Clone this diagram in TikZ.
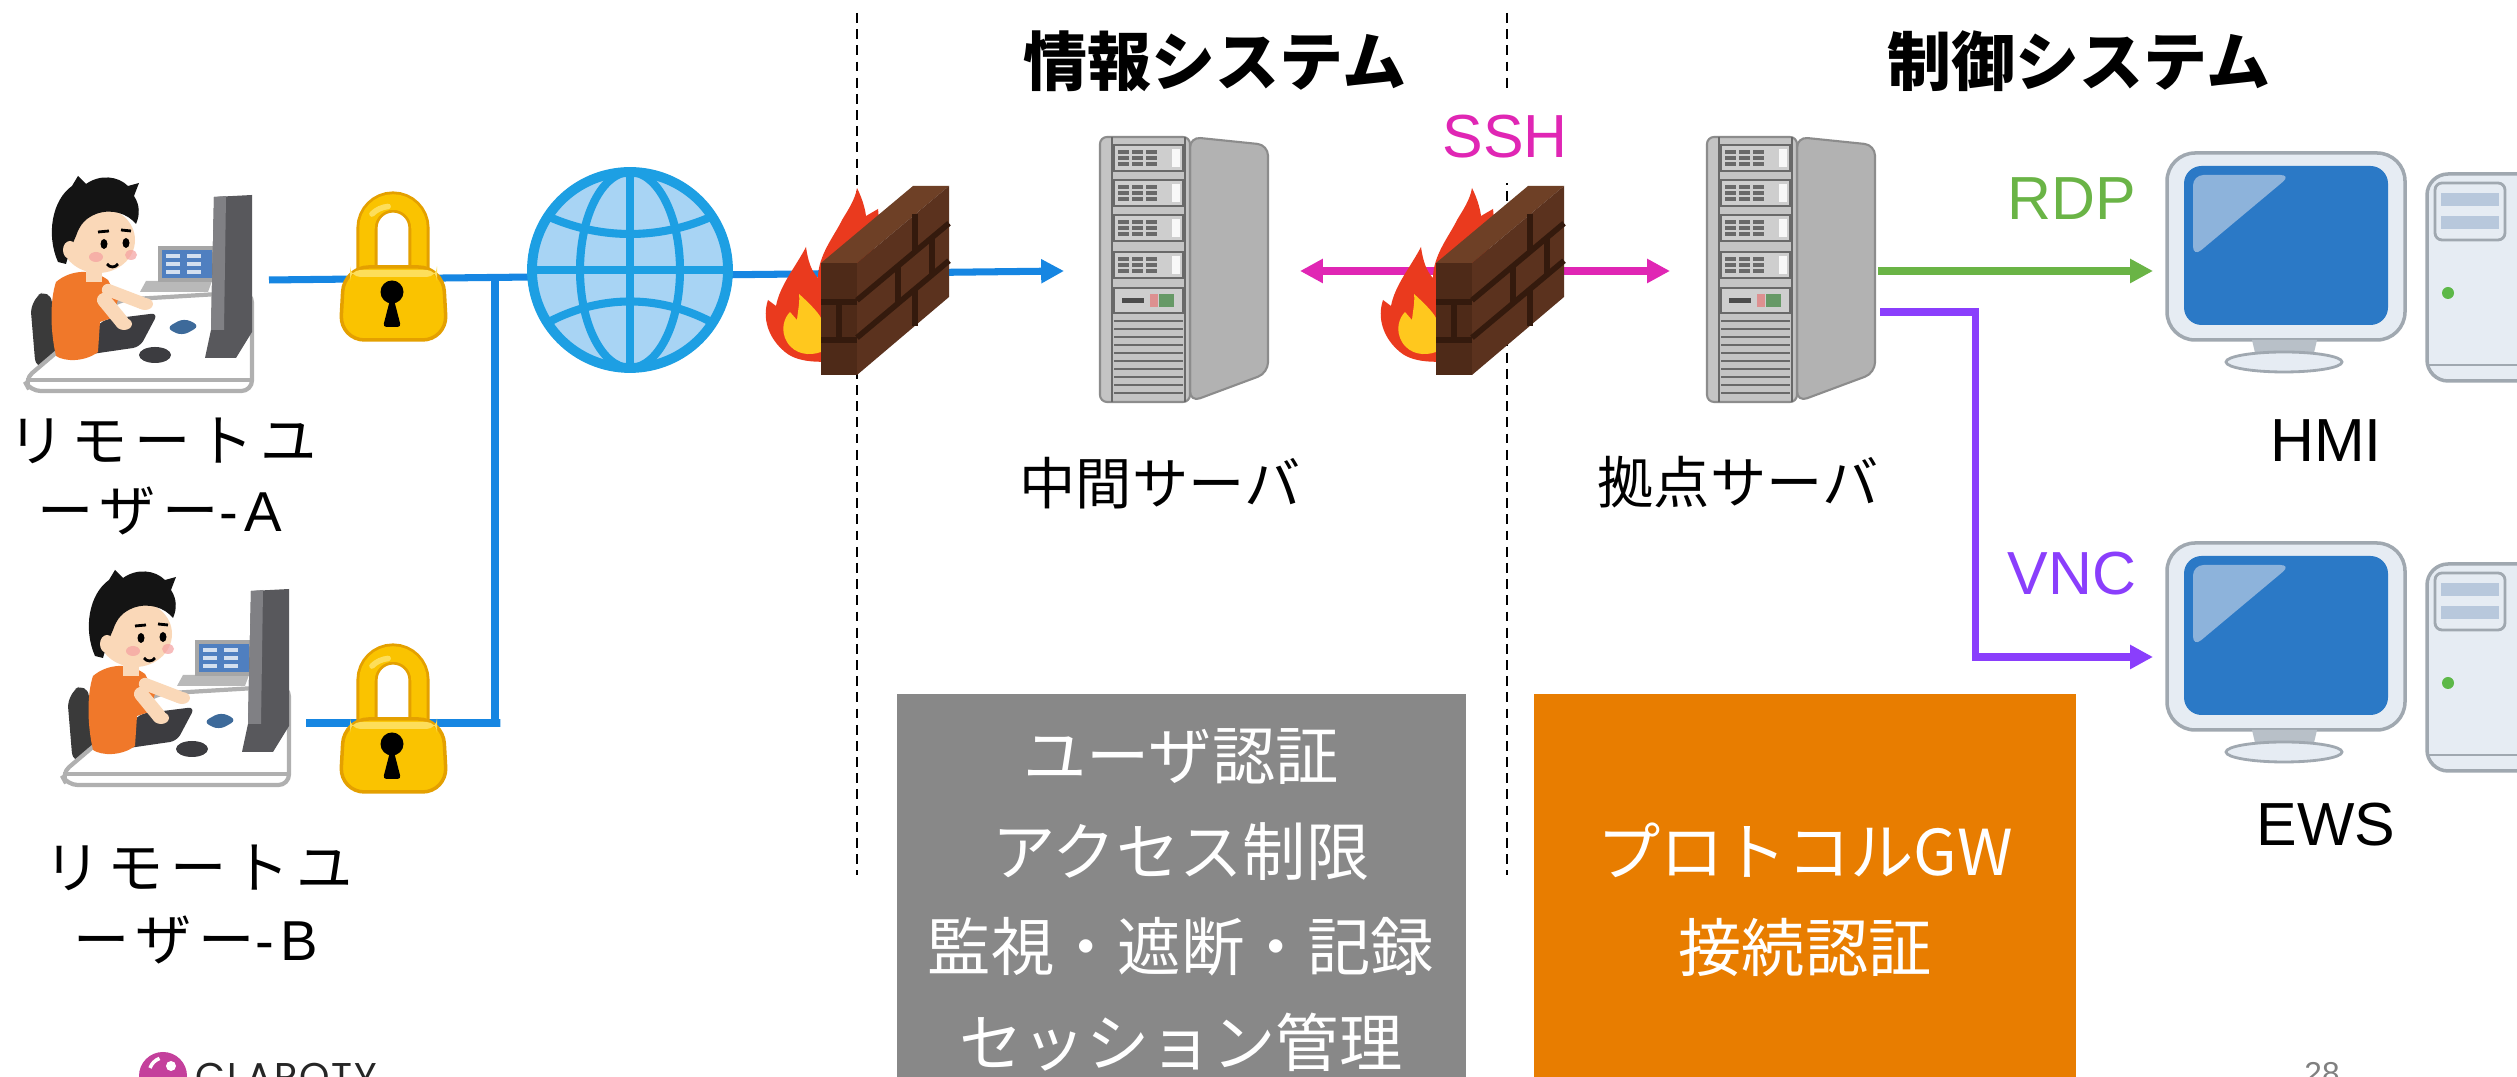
\documentclass[tikz,border=0pt]{standalone}
\usepackage{fontspec}
\setmainfont{Liberation Sans}
\newfontfamily\jp{Noto Sans CJK JP}
\newfontfamily\jpspaced{Noto Sans CJK JP}[LetterSpace=12]
\newfontfamily\latspaced{Liberation Sans}[LetterSpace=12]
\newfontfamily\logofont{Poppins}[LetterSpace=5]
\usetikzlibrary{arrows.meta}

% palette
\definecolor{netblue}{RGB}{22,134,226}
\definecolor{sshpink}{RGB}{224,38,180}
\definecolor{rdpgreen}{RGB}{106,180,70}
\definecolor{vncpurple}{RGB}{138,62,252}
\definecolor{boxgray}{RGB}{136,136,136}
\definecolor{boxorange}{RGB}{232,125,0}
\definecolor{lockyellow}{RGB}{250,195,0}
\definecolor{lockedge}{RGB}{228,160,0}
\definecolor{lockhigh}{RGB}{253,222,90}
\definecolor{globefill}{RGB}{168,212,244}
\definecolor{globeline}{RGB}{29,159,227}
\definecolor{brick}{RGB}{91,50,30}
\definecolor{bricktop}{RGB}{110,64,38}
\definecolor{brickfront}{RGB}{78,42,24}
\definecolor{mortar}{RGB}{52,26,13}
\definecolor{flamered}{RGB}{234,58,30}
\definecolor{flameyellow}{RGB}{255,200,30}
\definecolor{srvfront}{RGB}{196,196,196}
\definecolor{srvside}{RGB}{178,178,178}
\definecolor{srvedge}{RGB}{140,140,140}
\definecolor{srvline}{RGB}{105,105,105}
\definecolor{srvbay}{RGB}{206,206,206}
\definecolor{pcframe}{RGB}{230,236,243}
\definecolor{pcedge}{RGB}{160,168,176}
\definecolor{pcscreen}{RGB}{43,121,198}
\definecolor{pcreflect}{RGB}{141,179,219}
\definecolor{pcneck}{RGB}{184,192,200}
\definecolor{pcslot}{RGB}{184,200,220}
\definecolor{ledgreen}{RGB}{93,184,72}
\definecolor{skin}{RGB}{250,216,184}
\definecolor{blush}{RGB}{245,160,160}
\definecolor{shirt}{RGB}{240,120,42}
\definecolor{chairdark}{RGB}{58,58,58}
\definecolor{deskgray}{RGB}{176,176,176}
\definecolor{monidark}{RGB}{88,88,92}
\definecolor{monilight}{RGB}{128,128,132}
\definecolor{laptopblue}{RGB}{79,127,192}
\definecolor{tabletblue}{RGB}{61,106,154}
\definecolor{keydark}{RGB}{60,60,64}
\definecolor{claropink}{RGB}{196,64,156}

\tikzset{
  % a person working at a desk, drawn from its top-left corner
  deskuser/.pic={
    \begin{scope}[shift={(-23,-177)}]
      \fill[chairdark, rounded corners=4] (30,300) -- (50,288) -- (60,362) -- (36,372) -- cycle;
      \filldraw[fill=white, draw=deskgray, line width=1.2pt, rounded corners=3]
        (24,380) -- (118,300) -- (252,292) -- (252,391) -- (30,391) -- cycle;
      \draw[deskgray, line width=1pt] (26,380) -- (252,380);
      \fill[gray!55] (146,281) -- (212,281) -- (208,292) -- (140,292) -- cycle;
      \filldraw[fill=laptopblue, draw=gray!70, line width=1pt] (160,248) rectangle (214,280);
      \foreach \yy in {256,264,272}
        \draw[white!75!laptopblue, line width=1.2pt, dash pattern=on 4pt off 2pt] (166,\yy) -- (208,\yy);
      \fill[monidark] (214,197) -- (252,195) -- (252,332) -- (236,358) -- (205,358) -- (211,330) -- cycle;
      \fill[monilight] (214,197) -- (226,196) -- (224,330) -- (211,330) -- cycle;
      \fill[tabletblue, rounded corners=2] (166,328) -- (184,318) -- (200,326) -- (182,336) -- cycle;
      \fill[keydark, rounded corners=2] (78,356) -- (102,320) -- (158,313) -- (140,347) -- cycle;
      \fill[keydark] (155,355) ellipse (16 and 8);
      \fill[shirt] (56,282) .. controls (70,270) and (92,268) .. (108,280) -- (118,300) -- (112,318)
        -- (100,322) -- (98,352) .. controls (85,362) and (65,362) .. (56,356)
        .. controls (50,330) and (50,300) .. cycle;
      \draw[skin, line width=4pt, line cap=round] (104,300) -- (122,322);
      \draw[skin, line width=3.5pt, line cap=round] (108,290) -- (142,303);
      \fill[skin] (124,324) ellipse (8 and 6);
      \fill[skin] (145,304) ellipse (8 and 6);
      \fill[skin] (86,266) rectangle (102,282);
      \fill[skin] (98,240) ellipse (37 and 33);
      \fill[black!92] (58,262) .. controls (46,235) and (52,200) .. (72,186) -- (78,176) -- (86,184)
        .. controls (100,174) and (118,176) .. (128,186) -- (139,183) -- (134,196)
        .. controls (140,205) and (140,215) .. (136,224)
        .. controls (128,214) and (112,208) .. (96,214)
        .. controls (86,218) and (80,224) .. (76,236) -- (70,250) -- (66,264) -- cycle;
      \fill[skin] (70,250) ellipse (7 and 9);
      \fill[blush, opacity=0.7] (96,257) ellipse (7 and 5);
      \fill[blush, opacity=0.7] (131,255) ellipse (6 and 5);
      \fill[black] (104,244) ellipse (3.5 and 5);
      \fill[black] (126,243) ellipse (3.5 and 5);
      \draw[black, line width=0.8pt] (98,232) -- (109,231) (121,230) -- (131,231);
      \draw[black, line width=0.8pt] (107,264) .. controls (110,268) and (115,268) .. (118,264);
    \end{scope}
  },
  % padlock, drawn from its top-left corner
  padlock/.pic={
    \draw[lockedge, line width=6pt] (27,72) -- (27,28) arc[start angle=180, end angle=360, radius=26] -- (79,72);
    \draw[lockyellow, line width=4.4pt] (27,72) -- (27,28) arc[start angle=180, end angle=360, radius=26] -- (79,72);
    \draw[lockhigh, line width=1.6pt, line cap=round] (32,14) arc[start angle=225, end angle=265, radius=26];
    \filldraw[fill=lockyellow, draw=lockedge, line width=1pt, rounded corners=7]
      (4,67) -- (103,67) -- (107,140) -- (0,140) -- cycle;
    \fill[lockhigh, rounded corners=3] (10,70) rectangle (97,77);
    \fill[black] (52,92) circle (11.5);
    \fill[black, rounded corners=1] (52,92) -- (43,127) -- (61,127) -- cycle;
  },
  % globe icon, drawn around its centre
  globeicon/.pic={
    \fill[globefill] (0,0) circle (98);
    \begin{scope}
      \clip (0,0) circle (98);
      \draw[globeline, line width=2.3pt] (-100,0) -- (100,0) (0,-100) -- (0,100);
      \draw[globeline, line width=2.3pt] (0,0) ellipse (50 and 98);
      \draw[globeline, line width=2.3pt] (-95,-60) .. controls (-35,-28) and (35,-28) .. (95,-60);
      \draw[globeline, line width=2.3pt] (-95,60) .. controls (-35,22) and (35,22) .. (95,60);
    \end{scope}
    \draw[globeline, line width=2.8pt] (0,0) circle (98);
  },
  % burning brick wall, drawn from its top-left corner
  firewall/.pic={
    \begin{scope}[shift={(-821,-186)}]
      \fill[flamered] (845,360) .. controls (830,362) and (800,365) .. (785,352)
        .. controls (768,338) and (762,318) .. (768,300) -- (776,306)
        .. controls (780,285) and (795,268) .. (806,247)
        .. controls (808,262) and (812,272) .. (818,278)
        .. controls (818,255) and (835,235) .. (842,220)
        .. controls (848,210) and (855,200) .. (857,188)
        .. controls (862,198) and (865,208) .. (866,216) -- (878,209)
        .. controls (880,225) and (878,240) .. (872,255) -- (860,300) -- cycle;
      \fill[flameyellow] (821,352) .. controls (810,356) and (795,355) .. (787,342)
        .. controls (780,330) and (784,318) .. (790,312) -- (797,320)
        .. controls (798,310) and (800,302) .. (799,294)
        .. controls (808,302) and (818,312) .. (821,318) -- cycle;
      \fill[brickfront] (821,263) -- (857,263) -- (857,375) -- (821,375) -- cycle;
      \fill[bricktop] (821,263) -- (913,186) -- (949,186) -- (857,263) -- cycle;
      \fill[brick] (857,263) -- (949,186) -- (949,297) -- (857,375) -- cycle;
      \draw[mortar, line width=1.6pt] (857,300.3) -- (949,223.3) (857,337.7) -- (949,260.7);
      \draw[mortar, line width=1.6pt] (821,302) -- (857,302) (821,340) -- (857,340);
      \draw[mortar, line width=1.6pt] (915,214.5) -- (915,251.8) (898,266) -- (898,303.3)
        (932,237.5) -- (932,274.8) (915,289.2) -- (915,326.5);
      \draw[mortar, line width=1.6pt] (839,302) -- (839,340);
    \end{scope}
  },
  % tower server, drawn from its top-left corner
  servertower/.pic={
    \filldraw[fill=srvside, draw=srvedge, line width=0.6pt, rounded corners=3]
      (90,0) -- (168,8) -- (168,236) -- (90,265) -- cycle;
    \filldraw[fill=srvfront, draw=srvedge, line width=0.6pt, rounded corners=2] (0,0) rectangle (90,265);
    \draw[srvline, line width=0.8pt] (12,0) -- (12,265) (85,0) -- (85,265);
    \foreach \t in {8,43,78,115} {
      \filldraw[fill=srvbay, draw=srvline, line width=0.7pt] (14,\t) rectangle (83,\t+26);
      \foreach \g in {18,32,46}
        \foreach \r in {7,13,19}
          \draw[srvline, line width=1pt] (\g,\t+\r) -- (\g+11,\t+\r);
      \fill[white!85!srvbay] (72,\t+4) rectangle (80,\t+22);
    }
    \filldraw[fill=srvbay, draw=srvline, line width=0.7pt] (14,151) rectangle (83,176);
    \fill[black!70] (22,161) rectangle (44,166);
    \fill[red!30!srvbay] (50,157) rectangle (58,170);
    \fill[green!20!gray] (59,157) rectangle (74,170);
    \foreach \v in {184,192,...,262}
      \draw[srvline, line width=0.8pt] (14,\v) -- (83,\v);
  },
  % monitor with a desktop tower, drawn from the monitor's top-left corner
  desktoppc/.pic={
    \filldraw[fill=pcframe, draw=pcedge, line width=1pt, rounded corners=8] (0,0) rectangle (238,187);
    \fill[pcscreen, rounded corners=5] (17,13) rectangle (221,172);
    \fill[pcreflect, rounded corners=3] (26,22) -- (124,22) -- (26,104) -- cycle;
    \fill[pcneck] (85,187) -- (150,187) -- (146,204) -- (89,204) -- cycle;
    \filldraw[fill=pcframe, draw=pcedge, line width=0.8pt] (117,209) ellipse (58 and 10);
    \filldraw[fill=pcframe, draw=pcedge, line width=1pt, rounded corners=6] (260,21) rectangle (380,228);
    \draw[pcedge, line width=0.8pt, rounded corners=2] (268,30) rectangle (338,87);
    \fill[pcslot] (274,40) rectangle (332,53);
    \fill[pcslot] (274,63) rectangle (332,76);
    \fill[ledgreen] (281,140) circle (6);
    \draw[pcedge, line width=0.8pt] (260,212) -- (380,212);
  },
  netline/.style={netblue, line width=2pt},
  arrowtip/.style={-{Triangle[length=6.5pt,width=6.5pt]}},
  divider/.style={black, line width=0.7pt, dash pattern=on 2.8pt off 1.8pt},
  heading/.style={font=\jp\bfseries\fontsize{18.2}{22}\selectfont, inner sep=0},
  devlabel/.style={font=\jp\fontsize{16}{19}\selectfont, inner sep=0},
  userlabel/.style={font=\fontsize{16}{19}\selectfont, inner sep=0},
  proto/.style={font=\fontsize{17.3}{20}\selectfont, inner sep=0},
  hostlabel/.style={font=\fontsize{17.3}{20}\selectfont, inner sep=0},
  boxtext/.style={font=\jp\fontsize{18}{27.2}\selectfont, text=white, align=center, inner sep=0},
}

\begin{document}
\begin{tikzpicture}[x=0.01cm, y=-0.01cm]
  \useasboundingbox (0,0) rectangle (2517,1077);
  \clip (0,0) rectangle (2517,1077);
  \fill[white] (0,0) rectangle (2517,1077);

  % zone dividers
  \coordinate (divAtop) at (857,13);  \coordinate (divAbot) at (857,875);
  \coordinate (divBtop) at (1507,13); \coordinate (divBbot) at (1507,875);
  \draw[divider] (divAtop) -- (divAbot);
  \draw[divider] (divBtop) -- (divBbot);

  % connection end points
  \coordinate (uaport) at (269,280);
  \coordinate (ubport) at (306,723);
  \coordinate (hubtop) at (495,277.4);
  \coordinate (hubbot) at (495,723);
  \coordinate (srv1in) at (1064,271);
  \coordinate (sshL) at (1300,271);
  \coordinate (sshR) at (1670,271);
  \coordinate (rdpout) at (1878,271);
  \coordinate (hmiin) at (2153,271);
  \coordinate (vncout) at (1880,312);
  \coordinate (ewsin) at (2153,657);

  % remote access path
  \draw[netline, arrowtip] (uaport) -- (srv1in);
  \draw[netline] (ubport) -- ([xshift=1.5pt]hubbot) -- (hubbot) -- (hubtop);
  % ssh between the servers
  \draw[sshpink, line width=2pt, {Triangle[length=6.5pt,width=6.5pt]}-{Triangle[length=6.5pt,width=6.5pt]}] (sshL) -- (sshR);
  % protocol links to the plant hosts
  \draw[rdpgreen, line width=2pt, arrowtip] (rdpout) -- (hmiin);
  \draw[vncpurple, line width=2pt, arrowtip] (vncout) -- ++(95,0) |- (ewsin);

  % icons
  \pic (userA) at (23,177) {deskuser};
  \pic (userB) at (60,571) {deskuser};
  \pic (lockA) at (340,200) {padlock};
  \pic (lockB) at (340,652) {padlock};
  \pic (inet) at (630,270) {globeicon};
  \pic (fwA) at (821,186) {firewall};
  \pic (fwB) at (1436,186) {firewall};
  \pic (srvMid) at (1100,137) {servertower};
  \pic (srvSite) at (1707,137) {servertower};
  \pic (hmi) at (2167,153) {desktoppc};
  \pic (ews) at (2167,543) {desktoppc};

  % zone headings
  \node[heading] (itzone) at (1215,61) {情報システム};
  \node[heading] (otzone) at (2079,61) {制御システム};

  % protocol labels
  \node[proto, text=sshpink, fill=white, minimum height=0.92cm, inner xsep=3pt] (sshlbl) at (1505,137) {SSH};
  \node[proto, text=rdpgreen] (rdplbl) at (2072,199) {RDP};
  \node[proto, text=vncpurple] (vnclbl) at (2072,574) {VNC};

  % device labels
  \node[userlabel] (userA1) at (163,441) {\jpspaced リモートユ};
  \node[userlabel] (userA2) at (160,511) {{\jpspaced ーザー}\latspaced -A};
  \node[userlabel] (userB1) at (199,868) {\jpspaced リモートユ};
  \node[userlabel] (userB2) at (196,940) {{\jpspaced ーザー}\latspaced -B};
  \node[devlabel] (midlbl) at (1160,483) {中間サーバ};
  \node[devlabel] (sitelbl) at (1738,482) {拠点サーバ};
  \node[hostlabel] (hmilbl) at (2326,441) {HMI};
  \node[hostlabel] (ewslbl) at (2326,825) {EWS};

  % function boxes
  \fill[boxgray] (897,694) rectangle (1466,1100);
  \fill[boxorange] (1534,694) rectangle (2076,1100);
  \node[boxtext] (authtext) at (1181,900) {ユーザ認証\\アクセス制限\\監視・遮断・記録\\セッション管理};
  \node[boxtext] (gwtext) at (1805,900) {プロトコルGW\\接続認証};

  % footer
  \fill[claropink] (163,1076) circle (24);
  \fill[white] (171,1066) circle (5);
  \draw[white, line width=1pt] (150,1068) arc[start angle=200, end angle=250, radius=16];
  \node[anchor=north west, inner sep=0, text=black!85, font=\logofont\fontsize{11}{13}\selectfont] (claroty) at (195,1062) {CLAROTY};
  \node[anchor=north, inner sep=0, text=gray, font=\fontsize{9}{10}\selectfont] (pageno) at (2322,1062) {28};
\end{tikzpicture}
\end{document}
